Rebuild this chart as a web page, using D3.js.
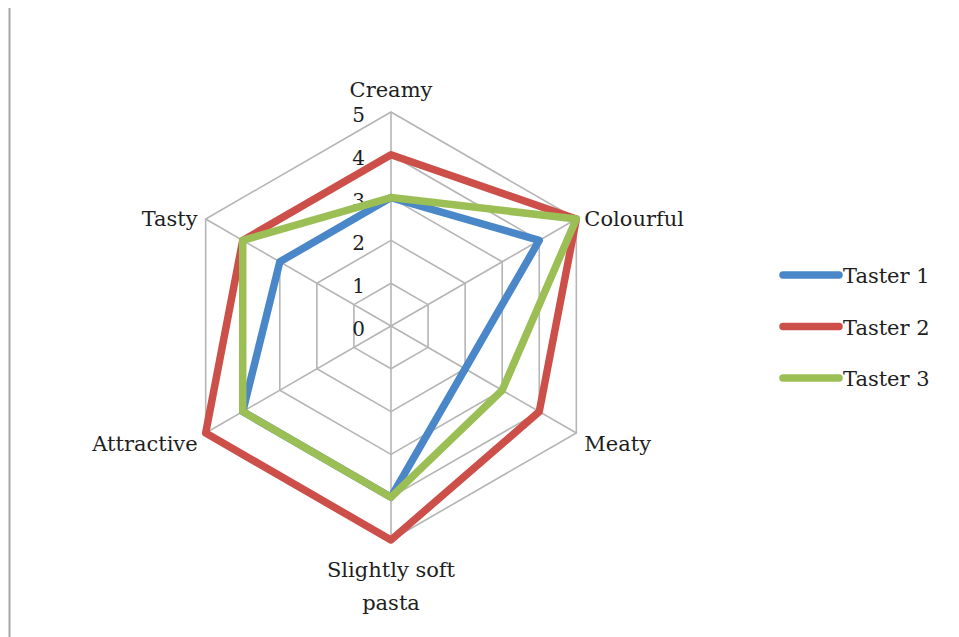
<!DOCTYPE html>
<html>
<head>
<meta charset="utf-8">
<script src="https://cdn.jsdelivr.net/npm/d3@7"></script>
<style>
  body { margin: 0; background: #fff; }
  svg text { font-family: "DejaVu Serif", serif; fill: #1e1e1e; }
</style>
</head>
<body>
<svg width="959" height="637"></svg>
<script>
// donnees du graphique
var axes = ["Creamy", "Colourful", "Meaty", "Slightly soft pasta", "Attractive", "Tasty"];
var taster1 = [3, 4, 2, 4, 4, 3];
var taster2 = [4, 5, 4, 5, 5, 4];
var taster3 = [3, 5, 3, 4, 4, 4];
var seriesNames = ["Taster 1", "Taster 2", "Taster 3"];
var ticks = [0, 1, 2, 3, 4, 5];

var couleurs = ["#4a87c9", "#cc5049", "#9bbf55"];
var series = [taster1, taster2, taster3];

var svg = d3.select("svg");
var cx = 391, cy = 326;

// bordure a gauche
svg.append("line")
  .attr("x1", 9.5).attr("x2", 9.5)
  .attr("y1", 8).attr("y2", 637)
  .attr("stroke", "#a8a8a8").attr("stroke-width", 2);

var r = d3.scaleLinear().domain([0, 5]).range([0, 214]);
var angle = d3.scaleLinear().domain([0, axes.length]).range([0, 2 * Math.PI]);

var g = svg.append("g").attr("transform", "translate(" + cx + "," + cy + ")");

function px(i, v) { return r(v) * Math.sin(angle(i)); }
function py(i, v) { return -r(v) * Math.cos(angle(i)); }

// anneaux de la grille
g.selectAll("path.ring")
  .data(ticks.slice(1))
  .enter().append("path")
  .attr("class", "ring")
  .attr("d", function(t) {
    return d3.line()(axes.map(function(a, i) { return [px(i, t), py(i, t)]; })) + "Z";
  })
  .attr("fill", "none")
  .attr("stroke", "#b5b5b5")
  .attr("stroke-width", 1.6);

// rayons
g.selectAll("line.spoke")
  .data(axes)
  .enter().append("line")
  .attr("class", "spoke")
  .attr("x1", 0).attr("y1", 0)
  .attr("x2", function(d, i) { return px(i, 5); })
  .attr("y2", function(d, i) { return py(i, 5); })
  .attr("stroke", "#b5b5b5")
  .attr("stroke-width", 1.6);

// graduations
g.selectAll("text.tick")
  .data(ticks)
  .enter().append("text")
  .attr("class", "tick")
  .attr("x", -26)
  .attr("y", function(t) { return -r(t) + 10; })
  .attr("text-anchor", "end")
  .attr("font-size", 20)
  .text(function(t) { return t; });

// courbes
var radial = d3.lineRadial()
  .angle(function(d, i) { return angle(i); })
  .radius(function(d) { return r(d); })
  .curve(d3.curveLinearClosed);

g.selectAll("path.serie")
  .data(series)
  .enter().append("path")
  .attr("class", "serie")
  .attr("d", radial)
  .attr("fill", "none")
  .attr("stroke", function(d, i) { return couleurs[i]; })
  .attr("stroke-width", 7.5)
  .attr("stroke-linejoin", "round");

// etiquettes des axes
var labelPos = [
  { dx: 0, dy: -15, anchor: "middle" },
  { dx: 8, dy: 7, anchor: "start" },
  { dx: 8, dy: 18, anchor: "start" },
  { dx: 0, dy: 17, anchor: "middle" },
  { dx: -8, dy: 18, anchor: "end" },
  { dx: -8, dy: 7, anchor: "end" }
];
axes.forEach(function(a, i) {
  var p = labelPos[i];
  var t = g.append("text")
    .attr("x", px(i, 5) + p.dx)
    .attr("y", py(i, 5) + p.dy)
    .attr("text-anchor", p.anchor)
    .attr("font-size", 21);
  if (a === "Slightly soft pasta") {
    t.append("tspan").attr("x", px(i, 5)).attr("dy", 20).text("Slightly soft");
    t.append("tspan").attr("x", px(i, 5)).attr("dy", 33).text("pasta");
  } else {
    t.text(a);
  }
});

// legende
var leg = svg.selectAll("g.legende")
  .data(seriesNames)
  .enter().append("g")
  .attr("class", "legende")
  .attr("transform", function(d, i) { return "translate(781," + (275 + 51.5 * i) + ")"; });

leg.append("line")
  .attr("x1", 2).attr("x2", 58)
  .attr("y1", 0).attr("y2", 0)
  .attr("stroke", function(d, i) { return couleurs[i]; })
  .attr("stroke-width", 7.5)
  .attr("stroke-linecap", "round");

leg.append("text")
  .attr("x", 62)
  .attr("y", 8)
  .attr("font-size", 21)
  .text(function(d) { return d; });
</script>
</body>
</html>
